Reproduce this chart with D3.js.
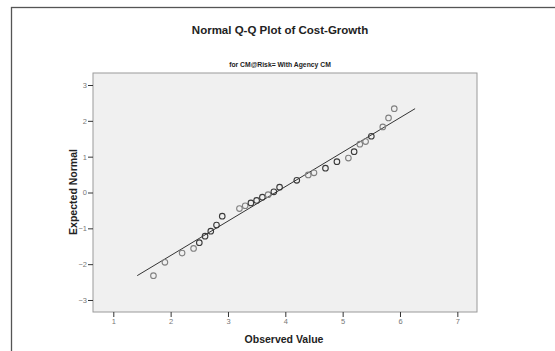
<!DOCTYPE html>
<html>
<head>
<meta charset="utf-8">
<script src="https://cdn.jsdelivr.net/npm/d3@7"></script>
<style>
  html, body { margin: 0; padding: 0; background: #fff; }
  svg { display: block; font-family: "Liberation Sans", Arial, sans-serif; }
</style>
</head>
<body>
<svg id="chart" width="555" height="351"></svg>
<script>
// Observed cost-growth values and their expected normal scores
const observed = [1.7, 1.9, 2.2, 2.4, 2.5, 2.6, 2.7, 2.8, 2.9, 3.2,
                  3.3, 3.4, 3.5, 3.6, 3.7, 3.8, 3.9, 4.2, 4.4, 4.5,
                  4.7, 4.9, 5.1, 5.2, 5.3, 5.4, 5.5, 5.7, 5.8, 5.9];
const expected = [-2.32, -1.95, -1.69, -1.56, -1.40, -1.22, -1.08, -0.91, -0.66, -0.45,
                  -0.37, -0.29, -0.22, -0.13, -0.06, 0.02, 0.15, 0.34, 0.49, 0.55,
                  0.68, 0.86, 0.96, 1.14, 1.35, 1.42, 1.57, 1.83, 2.08, 2.34];
// Number of cases sharing each observed value
const cases = [1, 1, 1, 1, 2, 2, 2, 2, 2, 1,
               1, 2, 2, 2, 1, 2, 2, 2, 1, 1,
               2, 2, 1, 2, 1, 1, 2, 1, 1, 1];
const xTicks = [1, 2, 3, 4, 5, 6, 7];
const yTicks = [-3, -2, -1, 0, 1, 2, 3];
// Reference line parameters (mean and standard deviation)
const refMean = 3.83;
const refSd = 1.04;

const title = "Normal Q-Q Plot of Cost-Growth";
const subtitle = "for CM@Risk= With Agency CM";
const xLabel = "Observed Value";
const yLabel = "Expected Normal";

const svg = d3.select("#chart");
const plot = { left: 93, top: 73, right: 477, bottom: 312 };

// Outer chart frame
svg.append("rect")
  .attr("x", 11.5).attr("y", 7.5)
  .attr("width", 560).attr("height", 360)
  .attr("fill", "#fff")
  .attr("stroke", "#555").attr("stroke-width", 1.3);

svg.append("text")
  .attr("x", 280).attr("y", 34)
  .attr("text-anchor", "middle")
  .attr("font-size", 11.5).attr("font-weight", "bold").attr("fill", "#222")
  .text(title);

svg.append("text")
  .attr("x", 280).attr("y", 66.5)
  .attr("text-anchor", "middle")
  .attr("font-size", 6.8).attr("font-weight", "bold").attr("fill", "#222")
  .text(subtitle);

const x = d3.scaleLinear().domain([0.646, 7.343]).range([plot.left, plot.right]);
const y = d3.scaleLinear().domain([-3.335, 3.335]).range([plot.bottom, plot.top]);

// Plot background
svg.append("rect")
  .attr("x", plot.left).attr("y", plot.top)
  .attr("width", plot.right - plot.left).attr("height", plot.bottom - plot.top)
  .attr("fill", "#f0f0f0")
  .attr("stroke", "#9a9a9a").attr("stroke-width", 1);

// Axes
const xAxis = svg.append("g")
  .attr("transform", `translate(0,${plot.bottom})`)
  .call(d3.axisBottom(x).tickValues(xTicks).tickSize(5).tickPadding(2).tickFormat(d3.format("d")));
const yAxis = svg.append("g")
  .attr("transform", `translate(${plot.left},0)`)
  .call(d3.axisLeft(y).tickValues(yTicks).tickSize(5).tickPadding(1).tickFormat(d3.format("d")));
[xAxis, yAxis].forEach(g => {
  g.select(".domain").remove();
  g.selectAll(".tick line").attr("stroke", "#333").attr("stroke-width", 1);
  g.selectAll(".tick text")
    .attr("fill", "#777").attr("font-size", 7.5)
    .attr("font-family", "\"Liberation Sans\", Arial, sans-serif");
});

// Reference line
const lineY = d3.extent(expected);
svg.append("line")
  .attr("x1", x(refMean + lineY[0] * refSd)).attr("y1", y(lineY[0]))
  .attr("x2", x(refMean + lineY[1] * refSd)).attr("y2", y(lineY[1]))
  .attr("stroke", "#333").attr("stroke-width", 1);

// Data points
const pts = observed.map((v, i) => ({ x: v, y: expected[i], n: cases[i] }));
svg.append("g").selectAll("circle")
  .data(pts)
  .join("circle")
  .attr("cx", d => x(d.x)).attr("cy", d => y(d.y))
  .attr("r", 2.8)
  .attr("fill", "none")
  .attr("stroke", d => d.n > 1 ? "#3a3a3a" : "#808080")
  .attr("stroke-width", 1.1);

// Axis titles
svg.append("text")
  .attr("x", 284).attr("y", 343)
  .attr("text-anchor", "middle")
  .attr("font-size", 10.5).attr("font-weight", "bold").attr("fill", "#222")
  .text(xLabel);

svg.append("text")
  .attr("transform", `translate(77,${192}) rotate(-90)`)
  .attr("text-anchor", "middle")
  .attr("font-size", 10.5).attr("font-weight", "bold").attr("fill", "#222")
  .text(yLabel);
</script>
</body>
</html>
